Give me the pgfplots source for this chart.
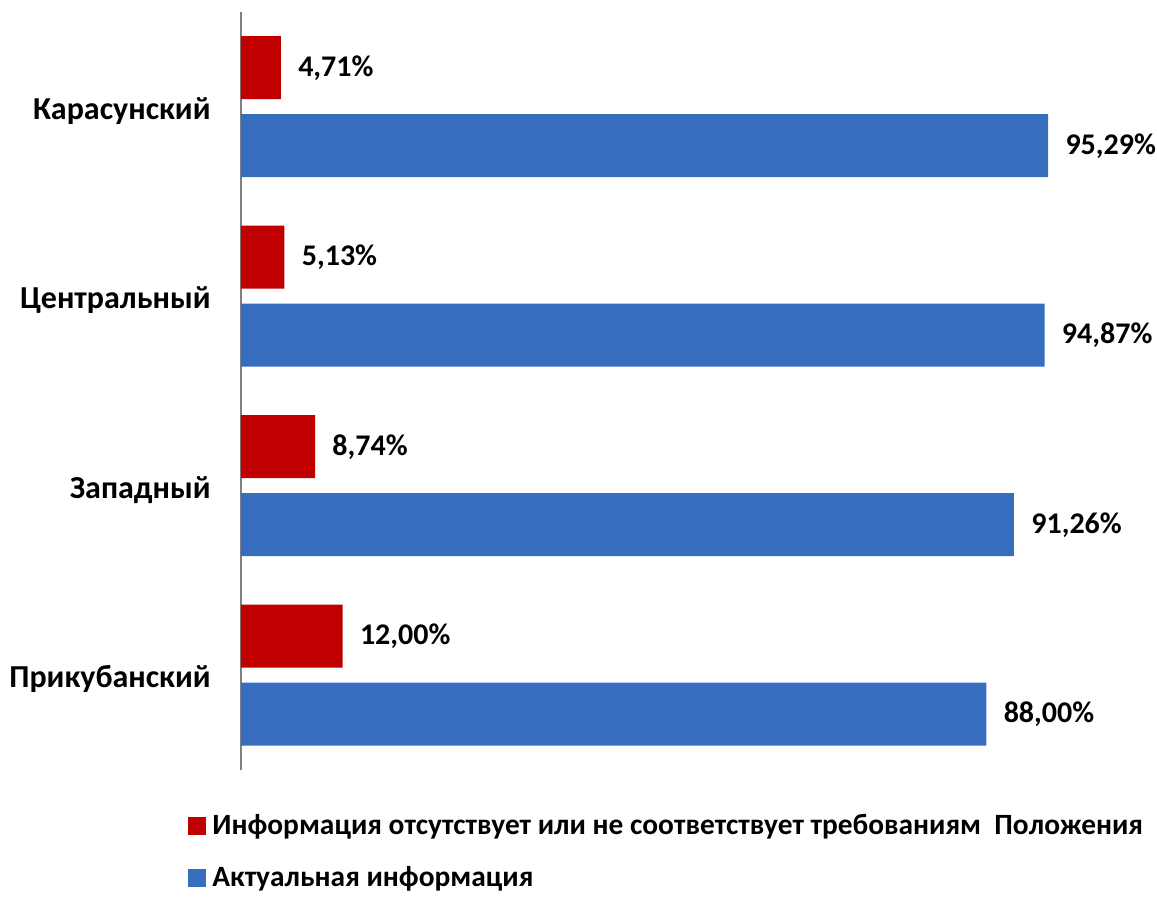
\documentclass[border=0pt]{standalone}
\usepackage{pgfplots}
\pgfplotsset{compat=1.18}
\usepackage{fontspec}
\setmainfont{Carlito}[BoldFont=Carlito Bold]
\definecolor{cred}{RGB}{192,0,0}
\definecolor{cblue}{RGB}{55,109,190}
\begin{document}
\begin{tikzpicture}
\begin{axis}[
  at={(0pt,0pt)}, anchor=south west,
  scale only axis, width=423.5pt, height=379pt,
  xmin=0, xmax=100, ymin=-0.5, ymax=3.5,
  xbar, bar width=31.5pt,
  axis x line=none,
  axis y line*=left,
  y axis line style={draw=gray, line width=1pt, -},
  ytick={0,1,2,3},
  yticklabels={Прикубанский,Западный,Центральный,Карасунский},
  major tick length=0pt,
  yticklabel style={font=\fontsize{16}{18}\selectfont\bfseries, inner xsep=0pt, xshift=-15pt, yshift=-2pt},
  nodes near coords={\pgfmathprintnumber[fixed,fixed zerofill,precision=2,use comma,assume math mode=true]{\pgfplotspointmeta}\%},
  every node near coord/.append style={font=\fontsize{15}{17}\selectfont\bfseries, anchor=west, inner xsep=0pt, xshift=8.5pt, black},
  legend style={draw=none, fill=none, at={(0,0)}, anchor=north west, xshift=-29.5pt, yshift=-18pt,
    font=\fontsize{14.7}{17}\selectfont\bfseries, row sep=10.5pt,
    nodes={inner xsep=3pt}},
  legend cell align=left,
  legend image code/.code={\fill[#1] (0pt,-4.5pt) rectangle (9pt,4.5pt);},
]
\addplot[fill=cred, draw=none, bar shift=19.5pt] coordinates {(12.00,0) (8.74,1) (5.13,2) (4.71,3)};
\addlegendentry{Информация отсутствует или не соответствует требованиям\ \ Положения}
\addplot[fill=cblue, draw=none, bar shift=-19.5pt] coordinates {(88.00,0) (91.26,1) (94.87,2) (95.29,3)};
\addlegendentry{Актуальная информация}
\end{axis}
\pgfresetboundingbox
\path[use as bounding box] (-120.5pt,-70pt) rectangle (458pt,385pt);
\end{tikzpicture}
\end{document}
